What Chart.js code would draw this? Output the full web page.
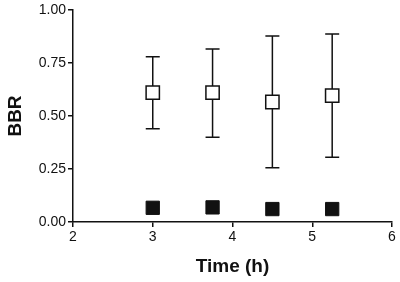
<!DOCTYPE html>
<html>
<head>
<meta charset="utf-8">
<script src="https://cdn.jsdelivr.net/npm/chart.js@4.4.0/dist/chart.umd.min.js"></script>
<style>
  html, body { margin: 0; padding: 0; background: #fff; }
  #wrap { width: 400px; height: 282px; }
</style>
</head>
<body>
<div id="wrap"><canvas id="c"></canvas></div>
<script>
// time points (h)
const times = [3, 3.75, 4.5, 5.25];
// open squares: mean BBR with error bar limits
const openMean = [0.61, 0.61, 0.566, 0.596];
const openLow = [0.44, 0.40, 0.256, 0.305];
const openHigh = [0.78, 0.816, 0.877, 0.887];
// filled squares
const filledMean = [0.067, 0.069, 0.061, 0.061];

const xTicks = [2, 3, 4, 5, 6];
const yTicks = [0, 0.25, 0.5, 0.75, 1];

// error bars drawn behind the markers, positioned by the chart's scales
const errorBars = {
  id: 'errorBars',
  beforeDatasetsDraw(chart) {
    const { ctx, scales: { x, y } } = chart;
    ctx.save();
    ctx.strokeStyle = '#111';
    ctx.lineWidth = 1.5;
    times.forEach((t, i) => {
      const px = x.getPixelForValue(t);
      const top = y.getPixelForValue(openHigh[i]);
      const bot = y.getPixelForValue(openLow[i]);
      ctx.beginPath();
      ctx.moveTo(px, top);
      ctx.lineTo(px, bot);
      ctx.moveTo(px - 7, top);
      ctx.lineTo(px + 7, top);
      ctx.moveTo(px - 7, bot);
      ctx.lineTo(px + 7, bot);
      ctx.stroke();
    });
    ctx.restore();
  },
};

const font = { family: 'Liberation Sans, Arial, sans-serif', size: 14 };
const titleFont = { family: 'Liberation Sans, Arial, sans-serif', size: 19, weight: 'bold' };

new Chart(document.getElementById('c').getContext('2d'), {
  type: 'scatter',
  data: {
    datasets: [
      {
        label: 'open',
        data: times.map((t, i) => ({ x: t, y: openMean[i] })),
        pointStyle: 'rect',
        pointRadius: 9.4,
        backgroundColor: '#fff',
        borderColor: '#111',
        borderWidth: 1.5,
      },
      {
        label: 'filled',
        data: times.map((t, i) => ({ x: t, y: filledMean[i] })),
        pointStyle: 'rect',
        pointRadius: 9.4,
        backgroundColor: '#111',
        borderColor: '#111',
        borderWidth: 1,
      },
    ],
  },
  options: {
    responsive: true,
    maintainAspectRatio: false,
    animation: false,
    layout: { autoPadding: false, padding: { top: 10, right: 8, left: 0, bottom: 0 } },
    plugins: { legend: { display: false }, tooltip: { enabled: false } },
    scales: {
      x: {
        type: 'linear',
        min: 2,
        max: 6,
        afterBuildTicks: (s) => { s.ticks = xTicks.map((v) => ({ value: v })); },
        afterFit: (s) => { s.height = 60; s.paddingRight = 0; s.paddingLeft = 0; },
        ticks: { color: '#111', font, padding: 2, callback: (v) => v },
        grid: { drawOnChartArea: false, drawTicks: true, tickLength: 5, color: '#111', lineWidth: 1.5 },
        border: { color: '#111', width: 1.5 },
        title: { display: true, text: 'Time (h)', color: '#111', font: titleFont, padding: { top: 0, bottom: 4 } },
      },
      y: {
        min: 0,
        max: 1,
        afterBuildTicks: (s) => { s.ticks = yTicks.map((v) => ({ value: v })); },
        afterFit: (s) => { s.width = 73; s.paddingTop = 0; s.paddingBottom = 0; },
        ticks: { color: '#111', font, padding: 2, callback: (v) => v.toFixed(2) },
        grid: { drawOnChartArea: false, drawTicks: true, tickLength: 5, color: '#111', lineWidth: 1.5 },
        border: { color: '#111', width: 1.5 },
        title: { display: true, text: 'BBR', color: '#111', font: titleFont, padding: { top: 4, bottom: 0 } },
      },
    },
  },
  plugins: [errorBars],
});
</script>
</body>
</html>
